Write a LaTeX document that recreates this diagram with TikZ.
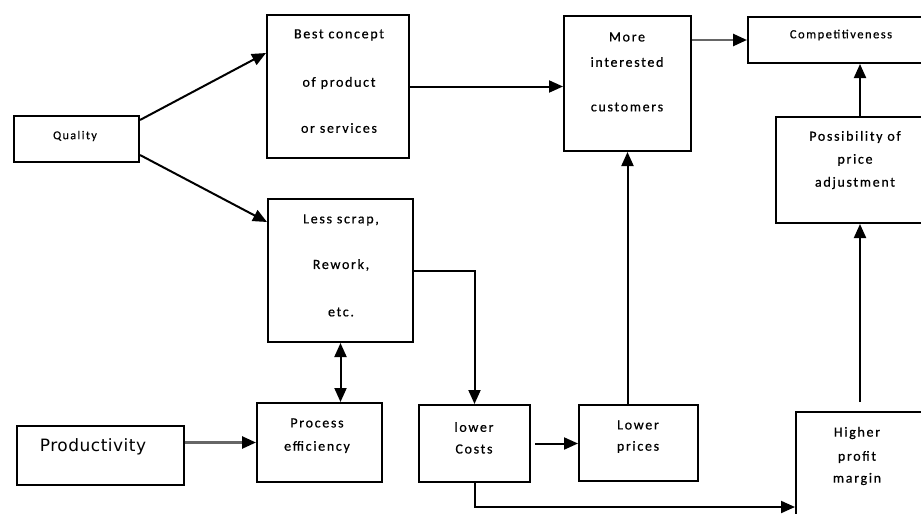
\documentclass[tikz,border=0pt]{standalone}
\usepackage{fontspec}
\setmainfont{Carlito}[LetterSpace=12,FakeBold=0.6]
\newfontfamily\prodfont{DejaVu Sans}[LetterSpace=3]
\usetikzlibrary{arrows.meta}
\begin{document}
\begin{tikzpicture}[x=1pt,y=-1pt,
  box/.style={draw=black,line width=2pt},
  lbl/.style={inner sep=0pt,font=\fontsize{14}{16}\selectfont,text=black},
  conn/.style={line width=2pt,-{Triangle[length=14pt,width=12pt,color=black]}},
  greyconn/.style={conn,draw=black!60,line width=2.6pt},
  plain/.style={line width=2pt}]
\useasboundingbox (0,0) rectangle (921,514);
\clip (0,0) rectangle (921,514);

% boxes
\node (quality) [box,minimum width=125pt,minimum height=46pt] at (76.5,139) {};
\node (best) [box,minimum width=142pt,minimum height=143pt] at (338,86.5) {};
\node (less) [box,minimum width=145pt,minimum height=143pt] at (340.5,270.5) {};
\node (more) [box,minimum width=127pt,minimum height=135pt] at (627.5,83.5) {};
\node (comp) [box,minimum width=212pt,minimum height=46pt] at (854,40) {};
\node (poss) [box,minimum width=168pt,minimum height=106pt] at (860,170) {};
\node (higher) [box,minimum width=128pt,minimum height=148pt] at (860,486) {};
\node (process) [box,minimum width=125pt,minimum height=79pt] at (319.5,442.5) {};
\node (prod) [box,minimum width=167pt,minimum height=59pt] at (100.5,455.5) {};
\node (lowcost) [box,minimum width=111pt,minimum height=77pt] at (474.5,443.5) {};
\node (lowprice) [box,minimum width=119pt,minimum height=76pt] at (638.5,443) {};

% labels
\node (tquality) [lbl,font=\fontsize{12}{14}\selectfont] at (75,136) {Quality};
\node (tbest1) [lbl] at (339,35) {Best concept};
\node (tbest2) [lbl] at (339,83) {of product};
\node (tbest3) [lbl] at (339,128) {or services};
\node (tless1) [lbl] at (341,220) {Less scrap,};
\node (tless2) [lbl] at (341,265) {Rework,};
\node (tless3) [lbl] at (341,312) {etc.};
\node (tmore1) [lbl] at (627,37) {More};
\node (tmore2) [lbl] at (627,62) {interested};
\node (tmore3) [lbl] at (627,107) {customers};
\node (tcomp) [lbl,font=\fontsize{12.5}{14}\selectfont] at (841,35) {Competitiveness};
\node (tposs1) [lbl] at (855,137) {Possibility of};
\node (tposs2) [lbl] at (855,160) {price};
\node (tposs3) [lbl] at (855,183) {adjustment};
\node (thigh1) [lbl] at (857,433) {Higher};
\node (thigh2) [lbl] at (857,457) {profit};
\node (thigh3) [lbl] at (857,479) {margin};
\node (tproc1) [lbl] at (317,423) {Process};
\node (tproc2) [lbl] at (317,447) {efficiency};
\node (tprod) [lbl,font=\prodfont\fontsize{17}{19}\selectfont] at (93,447) {Productivity};
\node (tlc1) [lbl] at (474,427) {lower};
\node (tlc2) [lbl] at (474,449) {Costs};
\node (tlp1) [lbl] at (638,425) {Lower};
\node (tlp2) [lbl] at (638,447) {prices};

% connectors
\coordinate (bend) at (478,507);
\draw[conn] ([yshift=19pt]quality.east) -- ([yshift=33.5pt]best.west);
\draw[conn] ([yshift=-16pt]quality.east) -- ([yshift=48.5pt]less.west);
\draw[conn] (best.east) -- (best.east -| more.west);
\draw[greyconn] (comp.west -| more.east) -- (comp.west);
\draw[conn] (poss.north) -- (poss.north |- comp.south);
\draw[conn,shorten <=9pt] (higher.north) -- (poss.south);
\draw[conn] (less.east) -| (lowcost.north);
\draw[conn,shorten <=4pt] (lowcost.east) -- (lowcost.east -| lowprice.west);
\draw[conn] (more.south |- lowprice.north) -- (more.south);
\draw[plain,{Triangle[length=14pt,width=12pt]}-{Triangle[length=14pt,width=12pt]}] (less.south) -- (less.south |- process.north);
\draw[greyconn] (process.west -| prod.east) -- (process.west);
\draw[conn] (lowcost.south) -- (lowcost.south |- bend) -- (bend -| higher.west);
\end{tikzpicture}
\end{document}
